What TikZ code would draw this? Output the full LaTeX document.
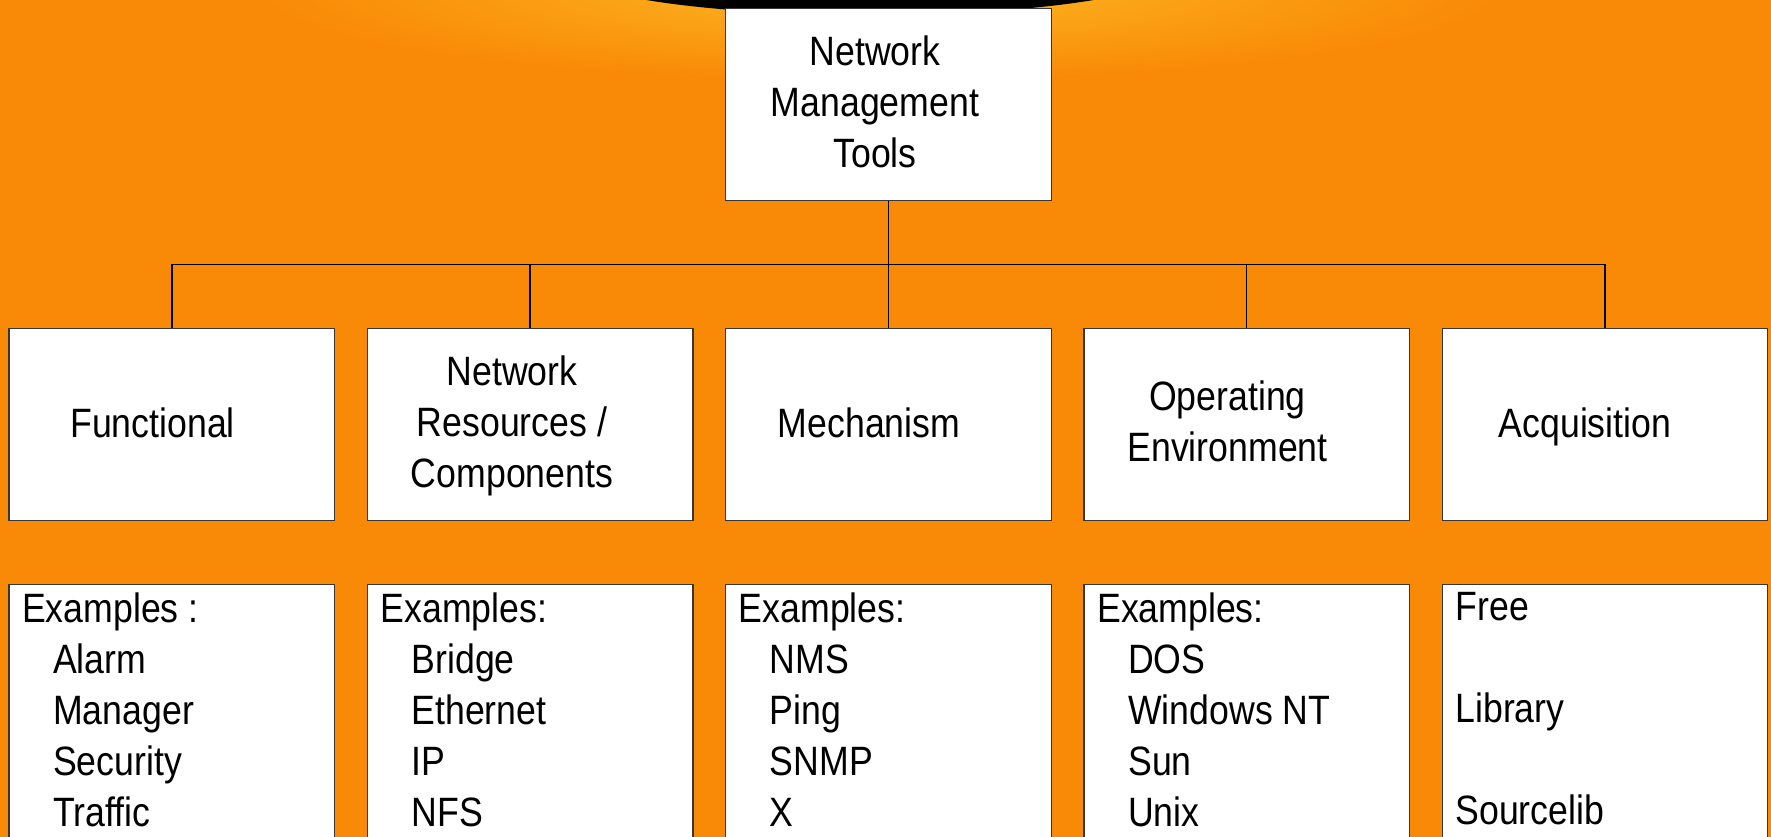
\documentclass[tikz,border=0pt]{standalone}
\usepackage{fontspec}
\setmainfont{Liberation Sans}[FakeStretch=0.87]
\definecolor{bgorange}{RGB}{249,138,7}
\definecolor{glow}{RGB}{253,182,34}
\definecolor{boxline}{RGB}{55,55,55}
\begin{document}
\begin{tikzpicture}[x=1pt,y=-1pt,
  box/.style={draw=boxline, line width=1.3pt, fill=white, minimum width=325.5pt, minimum height=192pt, inner sep=0pt},
  lowbox/.style={draw=boxline, line width=1.3pt, fill=white, minimum width=325.5pt, minimum height=266pt, inner sep=0pt, anchor=north},
  lbl/.style={font=\fontsize{41}{51}\selectfont, align=center, inner sep=0pt, anchor=center},
  list/.style={font=\fontsize{41}{51}\selectfont, align=left, inner sep=0pt, anchor=north west},
  link/.style={draw=black, line width=1.5pt}]
\useasboundingbox (0,0) rectangle (1771,837);
\clip (0,0) rectangle (1771,837);
% background
\fill[bgorange] (0,0) rectangle (1771,837);
\shade[inner color=glow, outer color=bgorange] (880,-10) ellipse (620 and 90);
\fill[black] (870,-30) ellipse (300 and 45);

% top box
\node[box, minimum height=192pt] (top) at (888.4,104.3) {};
\node[lbl] (toptxt) at (875,101.5) {Network\\Management\hspace*{14pt}\\Tools};

% middle boxes
\node[box] (b1) at (171.8,424.2) {};
\node[box] (b2) at (530.1,424.2) {};
\node[box] (b3) at (888.4,424.2) {};
\node[box] (b4) at (1246.7,424.2) {};
\node[box] (b5) at (1605.0,424.2) {};

% connectors
\coordinate (bus) at (888.4,264.3);
\draw[link] (top.south) -- (bus);
\draw[link] (b1.north) |- (bus) -| (b5.north);
\draw[link] (b2.north) -- (b2.north |- bus);
\draw[link] (bus) -- (b3.north);
\draw[link] (b4.north) -- (b4.north |- bus);

% middle labels
\node[lbl] (t1) at (152.5,422.6) {Functional};
\node[lbl] (t2) at (512,426.3) {Network\\Resources /\\Components};
\node[lbl] (t3) at (869,422.6) {Mechanism};
\node[lbl] (t4) at (1227.5,421.5) {Operating\\Environment};
\node[lbl] (t5) at (1585,426.9) {Acquisition};

% bottom boxes
\node[lowbox] (c1) at (171.8,584) {};
\node[lowbox] (c2) at (530.1,584) {};
\node[lowbox] (c3) at (888.4,584) {};
\node[lowbox] (c4) at (1246.7,584) {};
\node[lowbox] (c5) at (1605.0,584) {};

\node[list] (l1) at (22,592.3) {Examples :\\\hspace*{31pt}Alarm\\\hspace*{31pt}Manager\\\hspace*{31pt}Security\\\hspace*{31pt}Traffic};
\node[list] (l2) at (380.4,592.3) {Examples:\\\hspace*{31pt}Bridge\\\hspace*{31pt}Ethernet\\\hspace*{31pt}IP\\\hspace*{31pt}NFS};
\node[list] (l3) at (738.7,592.3) {Examples:\\\hspace*{31pt}NMS\\\hspace*{31pt}Ping\\\hspace*{31pt}SNMP\\\hspace*{31pt}X};
\node[list] (l4) at (1097,592.3) {Examples:\\\hspace*{31pt}DOS\\\hspace*{31pt}Windows NT\\\hspace*{31pt}Sun\\\hspace*{31pt}Unix};
\node[list] (l5) at (1455.3,592.3) {Free\\~\\Library\\~\\Sourcelib};
\end{tikzpicture}
\end{document}
